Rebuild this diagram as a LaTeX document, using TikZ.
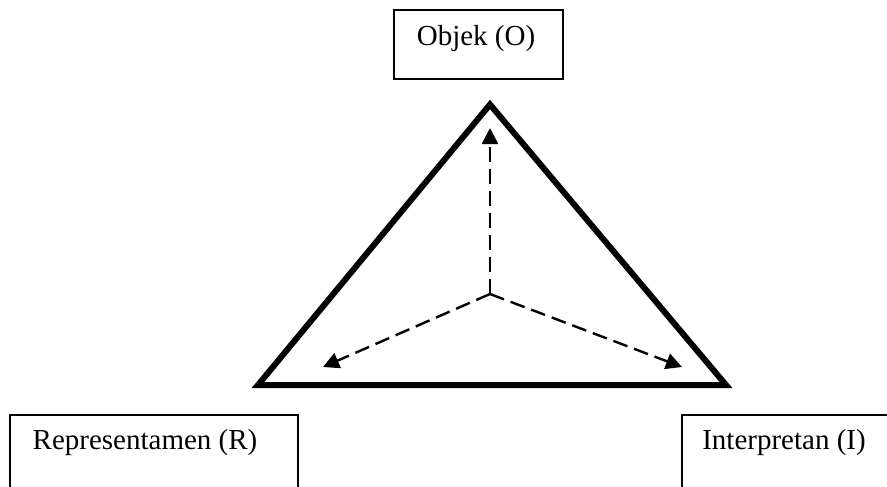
\documentclass[tikz,border=0pt]{standalone}
\usepackage{fontspec}
\setmainfont{Liberation Serif}
\usetikzlibrary{arrows.meta}
\begin{document}
\begin{tikzpicture}[x=1pt,y=-1pt,
  box/.style={draw,line width=1.6pt},
  lbl/.style={inner sep=0pt,font=\fontsize{29}{34}\selectfont},
  tri/.style={line width=6pt,line join=miter},
  link/.style={dash pattern=on 15pt off 7pt,line width=2.4pt,-{Triangle[length=16pt,width=16pt]}}]
\clip (0,0) rectangle (887,487);
\fill[white] (0,0) rectangle (887,487);
% boxes
\draw[box] (394,10) rectangle (563,79);
\node[lbl] (o) at (476,39) {Objek (O)};
\draw[box] (10,415) rectangle (298,530);
\node[lbl] (r) at (145,443) {Representamen (R)};
\draw[box] (682,415) rectangle (900,530);
\node[lbl] (i) at (784,443) {Interpretan (I)};
% triangle
\coordinate (A) at (490,104.5);
\coordinate (B) at (258,385);
\coordinate (C) at (726,385);
\draw[tri] (A) -- (B) -- (C) -- cycle;
% center and arrows
\coordinate (c) at (490,294);
\coordinate (to) at (490,128);
\coordinate (tl) at (323,367);
\coordinate (tr) at (682,367);
\draw[link] (c) -- (to);
\draw[link] (c) -- (tl);
\draw[link] (c) -- (tr);
\end{tikzpicture}
\end{document}
